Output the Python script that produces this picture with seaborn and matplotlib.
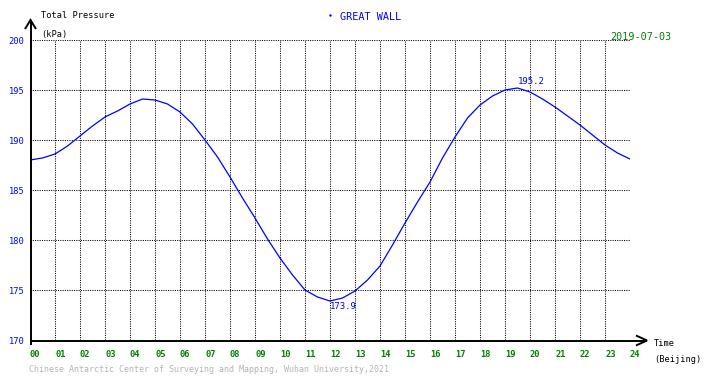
import numpy as np
import pandas as pd
import matplotlib
matplotlib.use("Agg")
import matplotlib.pyplot as plt
from matplotlib.lines import Line2D
import seaborn as sns

# ---- data ----
hours = [0.0, 0.5, 1.0, 1.5, 2.0, 2.5, 3.0, 3.5, 4.0, 4.5, 5.0, 5.5, 6.0, 6.5,
         7.0, 7.5, 8.0, 8.5, 9.0, 9.5, 10.0, 10.5, 11.0, 11.5, 12.0, 12.5,
         13.0, 13.5, 14.0, 14.5, 15.0, 15.5, 16.0, 16.5, 17.0, 17.5, 18.0,
         18.5, 19.0, 19.5, 20.0, 20.5, 21.0, 21.5, 22.0, 22.5, 23.0, 23.5, 24.0]
pressure = [188.0, 188.2, 188.6, 189.4, 190.4, 191.4, 192.3, 192.9, 193.6, 194.1,
            194.0, 193.6, 192.8, 191.6, 190.0, 188.3, 186.3, 184.2, 182.2, 180.1,
            178.2, 176.5, 175.0, 174.3, 173.9, 174.2, 174.9, 176.0, 177.4, 179.5,
            181.7, 183.8, 185.8, 188.2, 190.3, 192.2, 193.5, 194.4, 195.0, 195.2,
            194.8, 194.1, 193.3, 192.4, 191.5, 190.5, 189.5, 188.7, 188.1]
x_ticks = list(range(0, 25))
x_tick_labels = [f"{h:02d}" for h in x_ticks]
y_ticks = [170, 175, 180, 185, 190, 195, 200]
station = "GREAT WALL"
date_label = "2019-07-03"

df = pd.DataFrame({"hour": hours, "pressure": pressure})

sns.set_theme(style="white")
plt.rcParams["font.family"] = ["DejaVu Sans Mono"]

W, H = 710, 378
fig = plt.figure(figsize=(W / 100, H / 100), dpi=100)
fig.patch.set_facecolor("white")
ax = fig.add_axes([30 / W, 1 - 340 / H, 600 / W, 300 / H])
ax.set_facecolor("white")

sns.lineplot(data=df, x="hour", y="pressure", ax=ax, color="#0000ff",
             linewidth=0.9, estimator=None)

ax.set_xlim(0, 24)
ax.set_ylim(170, 200)
for s in ax.spines.values():
    s.set_visible(False)

# dotted grid
for h in x_ticks[1:]:
    ax.axvline(h, color="black", lw=0.75, ls=(0, (1, 1.2)), zorder=0)
for v in y_ticks[1:]:
    ax.axhline(v, color="black", lw=0.75, ls=(0, (1, 1.2)), zorder=0)

ax.set_xticks(x_ticks)
ax.set_xticklabels(x_tick_labels, color="green", fontsize=6.3, ha="left",
                   fontweight="bold")
ax.set_yticks(y_ticks)
ax.set_yticklabels([str(v) for v in y_ticks], color="blue", fontsize=6.3)
ax.tick_params(axis="x", length=0, pad=7)
ax.tick_params(axis="y", length=0, pad=4)
ax.set_xlabel("")
ax.set_ylabel("")

# min / max annotations from data
imax = int(np.argmax(pressure))
imin = int(np.argmin(pressure))
ax.text(hours[imax], pressure[imax] + 0.2, f"{pressure[imax]:.1f}", color="blue",
        fontsize=6.5, ha="left", va="bottom")
ax.text(hours[imin], pressure[imin] - 0.1, f"{pressure[imin]:.1f}", color="blue",
        fontsize=6.5, ha="left", va="top")


def px(x, y):
    return (x / W, 1 - y / H)


def fline(xs, ys, **kw):
    fx = [x / W for x in xs]
    fy = [1 - y / H for y in ys]
    fig.add_artist(Line2D(fx, fy, transform=fig.transFigure, color="black",
                          lw=1.4, solid_capstyle="butt", **kw))


# axes with open arrows
fline([30.5, 30.5], [345, 20])
fline([25, 30.5, 36], [29, 20, 29], solid_joinstyle="miter")
fline([30, 647], [340.5, 340.5])
fline([636, 647, 636], [335.5, 340.5, 345.5], solid_joinstyle="miter")

# texts
fig.text(*px(41, 16), "Total Pressure", fontsize=6.2, color="black", va="center", ha="left")
fig.text(*px(41, 34), "(kPa)", fontsize=6.2, color="black", va="center", ha="left")
fig.text(*px(340, 17), station, fontsize=7.3, color="blue", va="center", ha="left")
fig.add_artist(Line2D([330 / W], [1 - 15 / H], transform=fig.transFigure,
                      marker="s", markersize=0.7, color="blue", lw=0))
fig.text(*px(671, 37), date_label, fontsize=7.3, color="green", va="center", ha="right")
fig.text(*px(654, 344), "Time", fontsize=6.2, color="black", va="center", ha="left")
fig.text(*px(654, 360), "(Beijing)", fontsize=6.2, color="black", va="center", ha="left")
fig.text(*px(29, 370), "Chinese Antarctic Center of Surveying and Mapping, Wuhan University,2021",
         fontsize=6.0, color="#b4b4b4", va="center", ha="left")

fig.savefig("out.png", dpi=100, facecolor="white")
